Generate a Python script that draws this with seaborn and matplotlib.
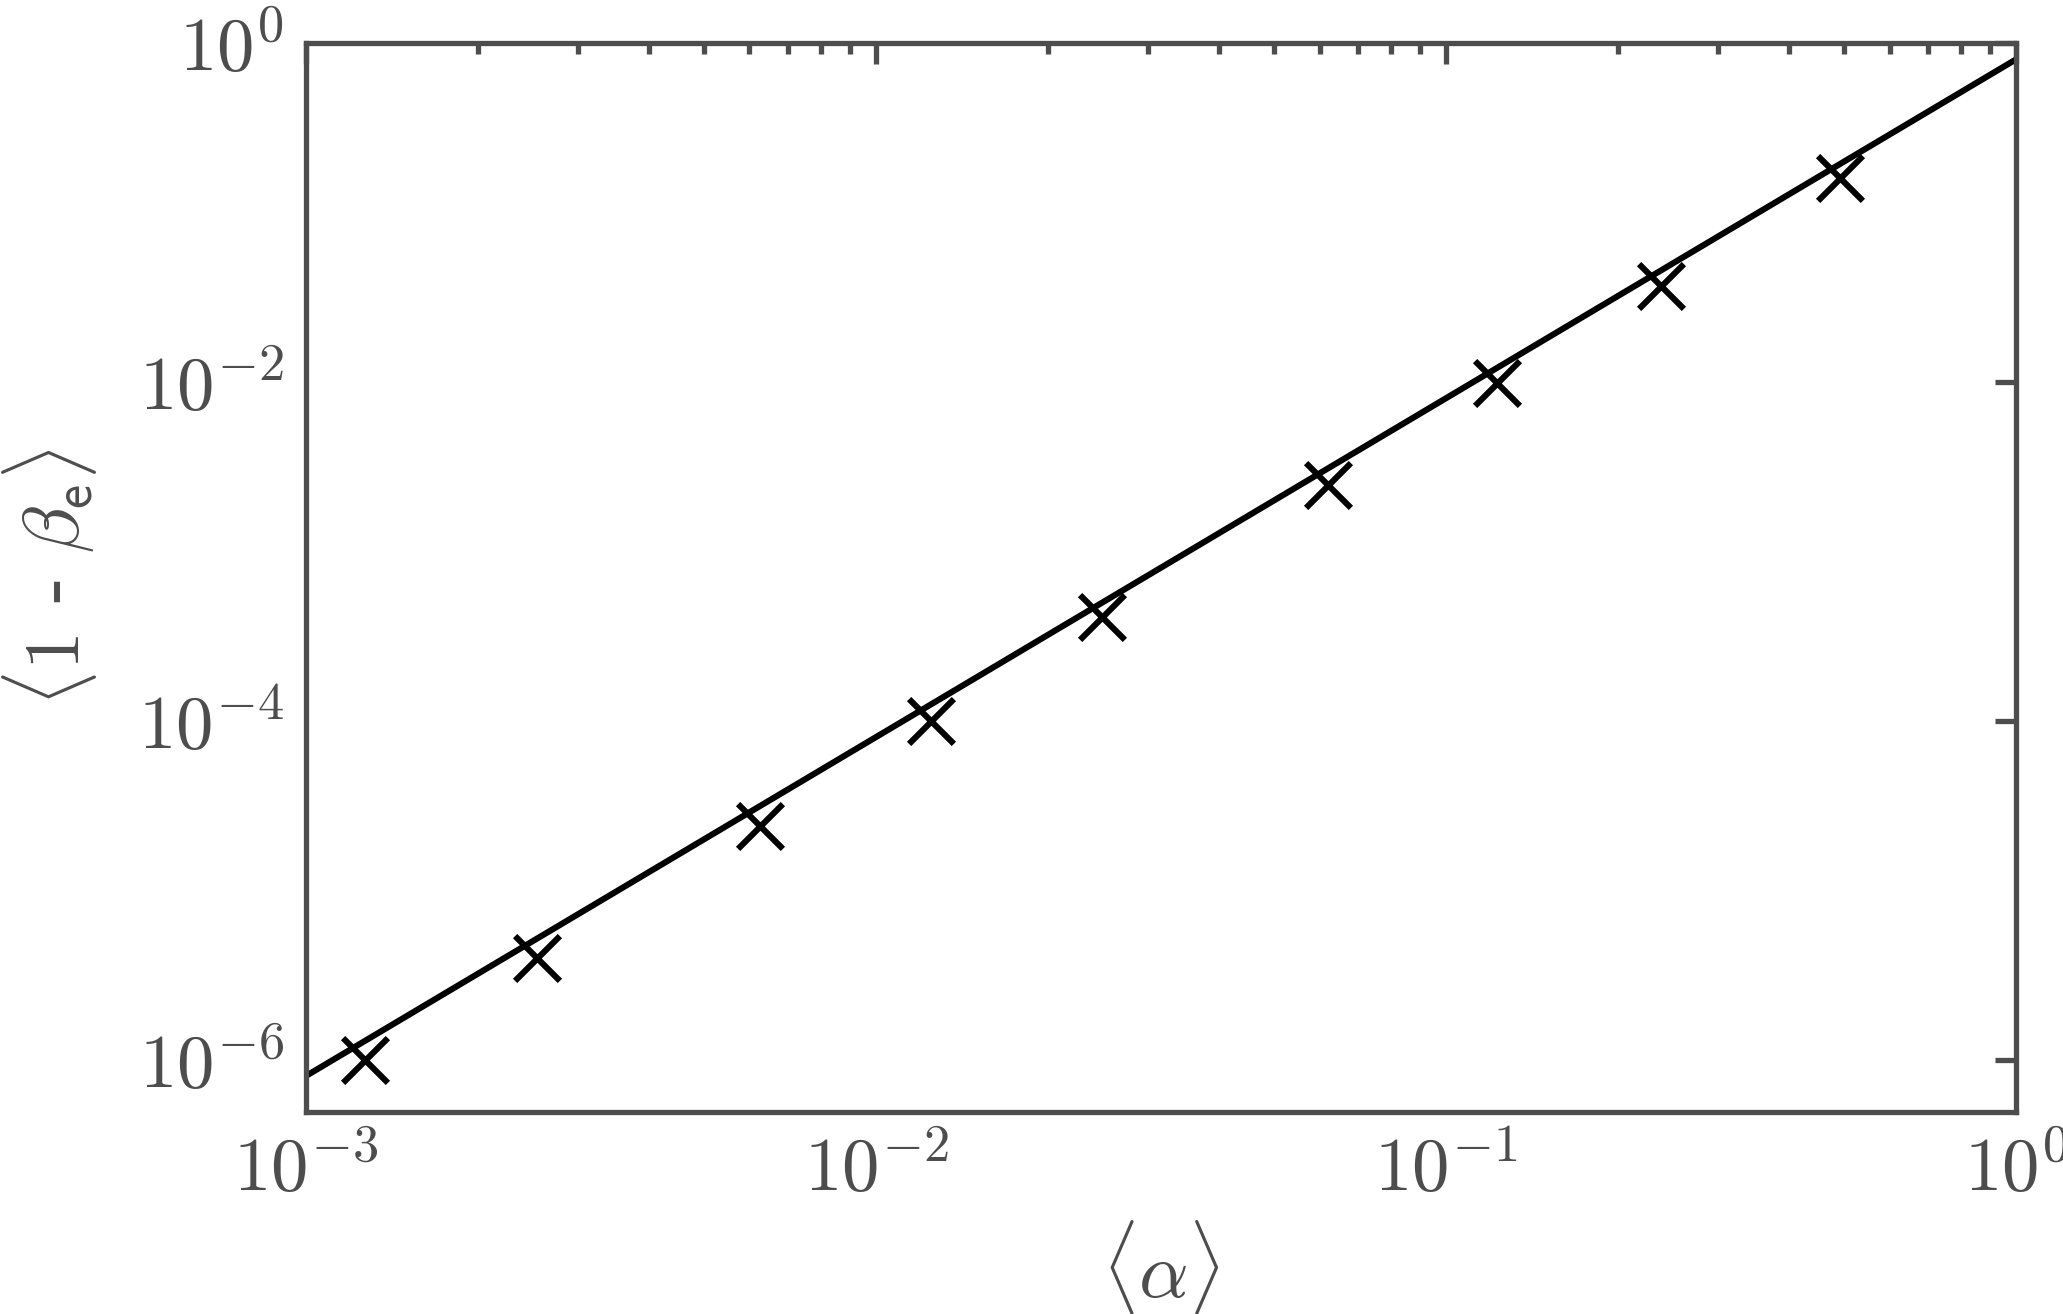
import numpy as np
import pandas as pd
import matplotlib
matplotlib.use("Agg")
import matplotlib.pyplot as plt
import seaborn as sns
from matplotlib.ticker import LogLocator, FixedLocator, FuncFormatter, NullFormatter

# measured points
alpha_vals = [1.27e-3, 2.54e-3, 6.27e-3, 0.0125, 0.0249, 0.0622, 0.123, 0.238, 0.491]
beta_vals = [1.0e-6, 4.0e-6, 2.4e-5, 9.9e-5, 4.1e-4, 2.45e-3, 9.9e-3, 0.037, 0.16]

# fitted power law (slope 2) end points
fit_alpha = [1e-3, 1.0]
fit_beta = [8e-7, 0.8]

xticks = [1e-3, 1e-2, 1e-1, 1e0]
yticks = [1e-6, 1e-4, 1e-2, 1e0]

pts = pd.DataFrame({"alpha": alpha_vals, "beta": beta_vals})
fit = pd.DataFrame({"alpha": fit_alpha, "beta": fit_beta})

sns.set_style("white")
plt.rcParams["mathtext.fontset"] = "cm"
plt.rcParams["font.family"] = ["DejaVu Sans"]
gray = "#4d4d4d"

fig = plt.figure(figsize=(10.315, 6.57), dpi=200)
ax = fig.add_axes([0.1483, 0.1537, 0.8289, 0.8136])

sns.lineplot(data=fit, x="alpha", y="beta", color="black", linewidth=2.2, ax=ax)
sns.scatterplot(data=pts, x="alpha", y="beta", marker="x", color="black",
                s=260, linewidth=2.2, ax=ax, zorder=3)

ax.set_xscale("log")
ax.set_yscale("log")
ax.set_xlim(1e-3, 1)
ax.set_ylim(4.9e-7, 1)

ax.xaxis.set_major_locator(FixedLocator(xticks))
ax.xaxis.set_minor_locator(LogLocator(base=10, subs=np.arange(2, 10), numticks=20))
ax.xaxis.set_minor_formatter(NullFormatter())
ax.yaxis.set_major_locator(FixedLocator(yticks))
ax.yaxis.set_minor_locator(FixedLocator([]))

fmt = FuncFormatter(lambda v, p: r"$10^{%d}$" % int(round(np.log10(v))))
ax.xaxis.set_major_formatter(fmt)
ax.yaxis.set_major_formatter(fmt)

ax.tick_params(which="both", direction="in", top=True, right=True,
               color=gray, labelcolor=gray, labelsize=27, width=1.9)
ax.tick_params(which="major", length=7.5, pad=8)
ax.tick_params(which="minor", length=3.8)

for sp in ax.spines.values():
    sp.set_color(gray)
    sp.set_linewidth(1.9)

ax.set_xlabel(r"$\langle\alpha\rangle$", fontsize=28, color=gray, labelpad=4)
ax.set_ylabel(r"$\langle 1$ - $\beta_{\mathsf{e}}\rangle$", fontsize=28, color=gray, labelpad=14)

fig.savefig("out.png", dpi=200)
